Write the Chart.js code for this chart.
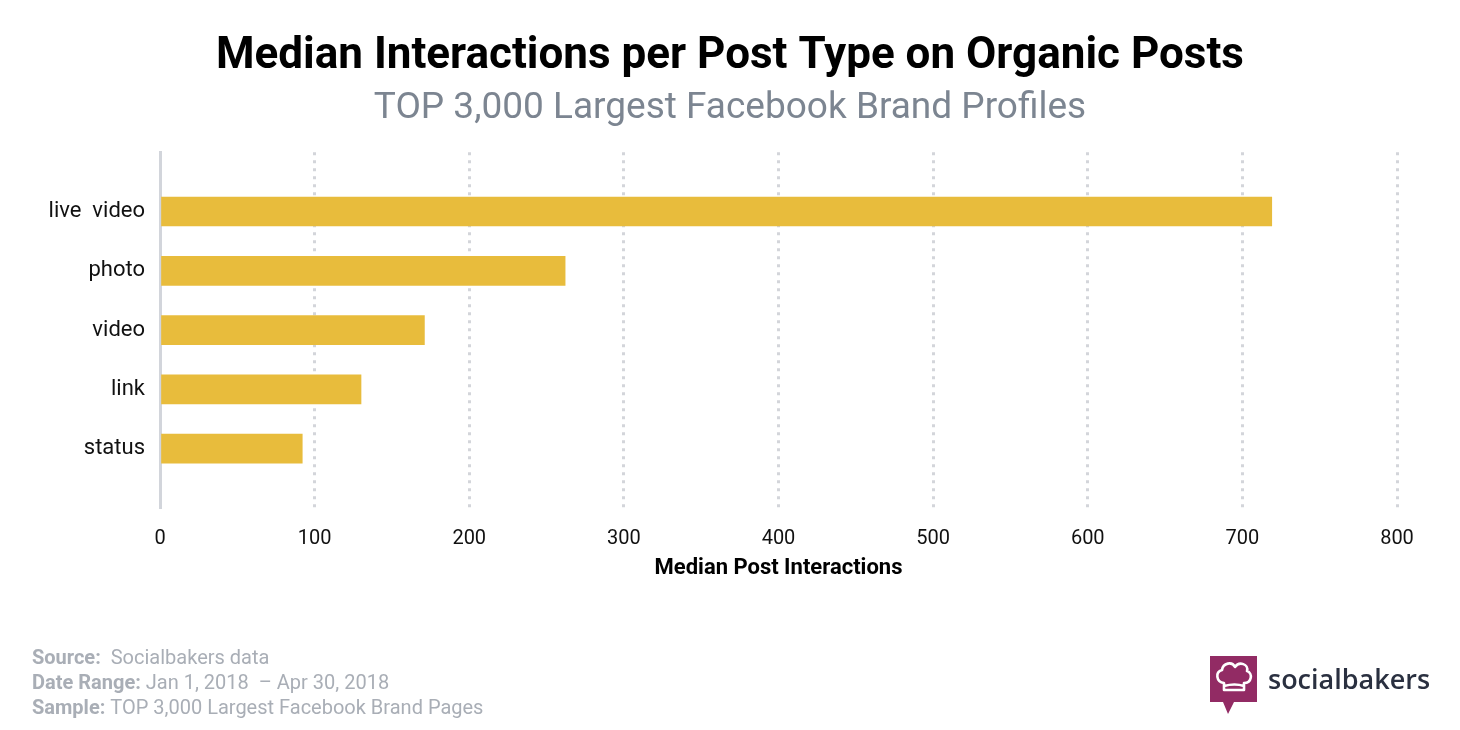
<!DOCTYPE html>
<html>
<head>
<meta charset="utf-8">
<script src="https://cdn.jsdelivr.net/npm/chart.js"></script>
<style>
  html, body { margin: 0; padding: 0; background: #fff; }
  #wrap { position: relative; width: 1460px; height: 730px; font-family: Roboto, sans-serif; }
  #footer { position: absolute; left: 32px; top: 645px; font-size: 20px; line-height: 25px; color: #a9aeb6; }
  #footer b { font-weight: 700; }
  #logo { position: absolute; left: 1210px; top: 656px; display: flex; align-items: flex-start; }
  #logo span { font-family: "Open Sans", sans-serif; font-size: 27px; font-weight: 600; color: #2a3040; margin-left: 11px; margin-top: 4px; }
</style>
</head>
<body>
<div id="wrap">
  <canvas id="chart" width="1460" height="730"></canvas>
  <div id="footer">
    <div><b>Source:</b>&nbsp; Socialbakers data</div>
    <div><b>Date Range:</b> Jan 1, 2018 &nbsp;– Apr 30, 2018</div>
    <div><b>Sample:</b>&nbsp;TOP 3,000 Largest Facebook Brand Pages</div>
  </div>
  <div id="logo">
    <svg width="47" height="58" viewBox="0 0 47 58">
      <path d="M0 0 H47 V46 H24 L18 58 L13 46 H0 Z" fill="#922b64"/>
      <path d="M14 34 V27 C6 26 5 16 12 14 C13 7 22 5 25 11 C29 5 39 8 37 15 C43 17 42 27 34 27 V34 Z M14 30 C21 28 28 28 34 30" fill="none" stroke="#fff" stroke-width="2.6" stroke-linejoin="round"/>
    </svg>
    <span>socialbakers</span>
  </div>
</div>
<script>
const categories = ['live  video', 'photo', 'video', 'link', 'status'];
const interactions = [719, 262, 171, 130, 92];
const xTicks = [0, 100, 200, 300, 400, 500, 600, 700, 800];

new Chart(document.getElementById('chart'), {
  type: 'bar',
  data: {
    datasets: [{
      data: interactions.map((v, i) => ({ x: v, y: i })),
      backgroundColor: '#e8bc3c',
      barThickness: 29
    }]
  },
  options: {
    indexAxis: 'y',
    responsive: false,
    animation: false,
    layout: { padding: { left: 0, right: 0, top: 0, bottom: 148 } },
    plugins: {
      legend: { display: false },
      tooltip: { enabled: false },
      title: {
        display: true,
        text: 'Median Interactions per Post Type on Organic Posts',
        color: '#000',
        font: { family: 'Roboto', size: 44, weight: 'bold', lineHeight: 1.2 },
        padding: { top: 31, bottom: 1 }
      },
      subtitle: {
        display: true,
        text: 'TOP 3,000 Largest Facebook Brand Profiles',
        color: '#7c8591',
        font: { family: 'Roboto', size: 37, lineHeight: 1.2 },
        padding: { top: 2, bottom: 21 }
      }
    },
    scales: {
      x: {
        type: 'linear',
        min: 0,
        max: 800,
        afterBuildTicks: s => { s.ticks = xTicks.map(v => ({ value: v })); },
        afterFit: s => { s.height = 74; },
        ticks: { color: '#111', font: { family: 'Roboto', size: 20 }, padding: 19 },
        grid: {
          drawTicks: false,
          lineWidth: 3,
          color: c => (c.tick && c.tick.value === 0) ? 'rgba(0,0,0,0)' : '#d3d5da'
        },
        border: { display: false, dash: [3, 5] },
        title: {
          display: true,
          text: 'Median Post Interactions',
          color: '#000',
          font: { family: 'Roboto', size: 22, weight: 'bold', lineHeight: 1.2 },
          padding: { top: 4, bottom: 0 }
        }
      },
      y: {
        type: 'linear',
        offset: false,
        min: -1,
        max: categories.length,
        reverse: true,
        afterFit: s => { s.width = 160; },
        afterBuildTicks: s => { s.ticks = [-1, 0, 1, 2, 3, 4, 5].map(v => ({ value: v })); },
        ticks: {
          color: '#111',
          font: { family: 'Roboto', size: 22 },
          padding: 15,
          callback: v => categories[v] !== undefined ? categories[v] : ''
        },
        grid: { display: false, drawTicks: false },
        border: { display: true, color: '#d2d5db', width: 3 }
      },
      // empty right-hand axis, only keeps the plot area clear of the right edge
      yRight: {
        type: 'linear',
        position: 'right',
        afterFit: s => { s.width = 63; },
        ticks: { display: false },
        grid: { display: false, drawTicks: false },
        border: { display: false }
      }
    }
  }
});
</script>
</body>
</html>
